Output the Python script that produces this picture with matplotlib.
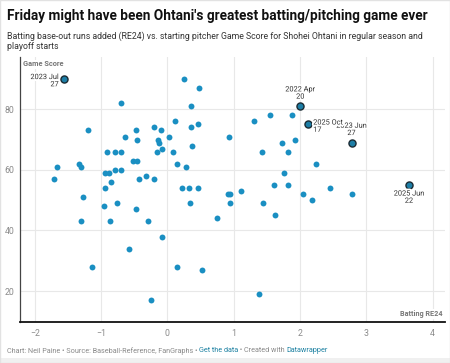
import matplotlib
matplotlib.use('Agg')
import matplotlib.pyplot as plt
import matplotlib.patheffects as pe
from matplotlib.patches import Rectangle

plt.rcParams['font.family'] = ['Roboto', 'DejaVu Sans']

# batting RE24 (x) vs game score (y)
re24 = [-1.553, 0.244, 0.478, -0.694, 0.362, 0.116, 0.459, 0.357, -0.201, -1.192,
        -0.472, -0.090, -0.643, 0.030, 0.926, -0.452, -0.140, -0.121, 0.377, -0.080,
        -0.914, -0.792, -0.694, -0.163, 0.086, -0.513, -0.462, -1.332, -1.302, -1.671,
        0.148, 0.278, -0.793, -0.694, -0.944, -0.878, -0.852, -1.704, -0.321, -0.422,
        -0.196, -0.934, 0.226, 0.327, 0.468, 0.912, -1.271, -0.763, 0.338, 0.950,
        -0.955, -0.472, -1.302, -0.861, -0.291, 0.754, -0.084, -0.582, -1.131, 0.148,
        0.525, -0.253, 2.006, 1.554, 1.876, 1.312, 2.127, 1.735, 1.926, 2.778,
        1.428, 1.825, 2.244, 1.756, 1.605, 1.825, 3.646, 1.104, 2.446, 0.950,
        2.047, 2.786, 2.187, 1.439, 1.629, 1.386]
game_score = [90, 90, 87, 82, 81, 76, 75, 74, 74, 73,
              73, 73, 71, 71, 71, 70, 70, 69, 68, 67,
              66, 66, 66, 66, 66, 63, 63, 62, 61, 61,
              62, 61, 60, 60, 59, 59, 56, 57, 58, 57,
              57, 54, 54, 54, 54, 52, 51, 49, 49, 49,
              48, 47, 43, 43, 43, 44, 38, 34, 28, 28,
              27, 17, 81, 78, 78, 76, 75, 69, 70, 69,
              66, 66, 62, 59, 55, 55, 55, 53, 54, 52,
              52, 52, 50, 49, 45, 19]

hl_labels = ['2023 Jul\n27', '2022 Apr\n20', '2023 Jun\n27', '2025 Oct\n17', '2025 Jun\n22']
hl_x = [-1.553, 2.006, 2.778, 2.127, 3.646]
hl_y = [90, 81, 69, 75, 55]

fig = plt.figure(figsize=(4.5, 3.63), dpi=100)
fig.patch.set_facecolor('white')
W, H = 450, 363
renderer = fig.canvas.get_renderer()


def fit(t, target_px):
    # rescale a text so it spans target_px pixels
    w = t.get_window_extent(renderer).width
    t.set_fontsize(t.get_fontsize() * target_px / w)


ax = fig.add_axes([20 / W, 1 - 322 / H, 425 / W, (322 - 56.5) / H])
ax.set_xlim(-2.222, 4.188)
ax.set_ylim(9.8, 97.4)

ax.scatter(re24, game_score, s=18, color='#1a8fc2', linewidths=0, zorder=3)
ax.scatter(hl_x, hl_y, s=26, color='#1d7ea6', edgecolors='#1b2b33', linewidths=1.0, zorder=4)

probe = fig.text(0, 0, '2023 Jul', fontsize=6)
fit(probe, 28.5)
lab_fs = probe.get_fontsize()
probe.remove()

halo = [pe.withStroke(linewidth=2.5, foreground='white')]
lab = dict(fontsize=lab_fs, color='#333333', zorder=5, path_effects=halo, linespacing=1.05)
ax.annotate(hl_labels[0], (hl_x[0], hl_y[0]), xytext=(-4, 3.5), textcoords='offset points',
            ha='right', va='top', multialignment='right', **lab)
ax.annotate(hl_labels[1], (hl_x[1], hl_y[1]), xytext=(0, 4), textcoords='offset points',
            ha='center', va='bottom', multialignment='center', **lab)
ax.annotate(hl_labels[2], (hl_x[2], hl_y[2]), xytext=(0, 4), textcoords='offset points',
            ha='center', va='bottom', multialignment='center', **lab)
ax.annotate(hl_labels[3], (hl_x[3], hl_y[3]), xytext=(3.5, 3.5), textcoords='offset points',
            ha='left', va='top', multialignment='left', **lab)
ax.annotate(hl_labels[4], (hl_x[4], hl_y[4]), xytext=(0, -4), textcoords='offset points',
            ha='center', va='top', multialignment='center', **lab)

ax.set_xticks([-2, -1, 0, 1, 2, 3, 4])
ax.set_xticklabels(['\u22122', '\u22121', '0', '1', '2', '3', '4'])
ax.set_yticks([20, 40, 60, 80])
ax.tick_params(length=0, labelsize=6.3, colors='#8a8a8a')
ax.tick_params(axis='x', pad=5)
ax.tick_params(axis='y', pad=4)
ax.grid(True, color='#e8e8e8', linewidth=0.8, zorder=0)
ax.set_axisbelow(True)
for s in ['top', 'right']:
    ax.spines[s].set_visible(False)
ax.spines['left'].set_color('#444444')
ax.spines['left'].set_linewidth(0.9)
ax.spines['bottom'].set_color('#111111')
ax.spines['bottom'].set_linewidth(1.3)

t = ax.text(0.008, 0.985, 'Game Score', transform=ax.transAxes, fontsize=6, fontweight='bold',
            color='#777777', ha='left', va='top',
            bbox=dict(facecolor='white', edgecolor='none', pad=0.5))
fit(t, 41)
t = ax.text(0.995, 0.015, 'Batting RE24', transform=ax.transAxes, fontsize=6, fontweight='bold',
            color='#777777', ha='right', va='bottom',
            bbox=dict(facecolor='white', edgecolor='none', pad=0.5))
fit(t, 43)

t = fig.text(7 / W, 1 - 16 / H, "Friday might have been Ohtani's greatest batting/pitching game ever",
             fontsize=10, fontweight='bold', color='#111111', ha='left', va='center')
fit(t, 421)
t = fig.text(7 / W, 1 - 36 / H,
             'Batting base-out runs added (RE24) vs. starting pitcher Game Score for Shohei Ohtani in regular season and',
             fontsize=6.5, color='#333333', ha='left', va='center')
fit(t, 417)
fs = t.get_fontsize()
fig.text(7 / W, 1 - 46.5 / H, 'playoff starts', fontsize=fs, color='#333333', ha='left', va='center')

# footer with coloured pieces
pieces = [('Chart: Neil Paine \u2022 Source: Baseball-Reference, FanGraphs \u2022 ', '#8a8a8a'),
          ('Get the data', '#1d81a2'),
          (' \u2022 Created with ', '#8a8a8a'),
          ('Datawrapper', '#1d81a2')]
xpos = 7
for txt, col in pieces:
    t = fig.text(xpos / W, 1 - 351 / H, txt, fontsize=5.25, color=col, ha='left', va='center')
    xpos += t.get_window_extent(renderer).width

fig.patches.append(Rectangle((0, 0), 1, 5 / H, transform=fig.transFigure,
                             facecolor='#f0f0f0', edgecolor='none'))
fig.patches.append(Rectangle((0, 0), 1, 1, transform=fig.transFigure,
                             facecolor='none', edgecolor='#e2e2e2', linewidth=1))

fig.savefig('out.png', dpi=100)
